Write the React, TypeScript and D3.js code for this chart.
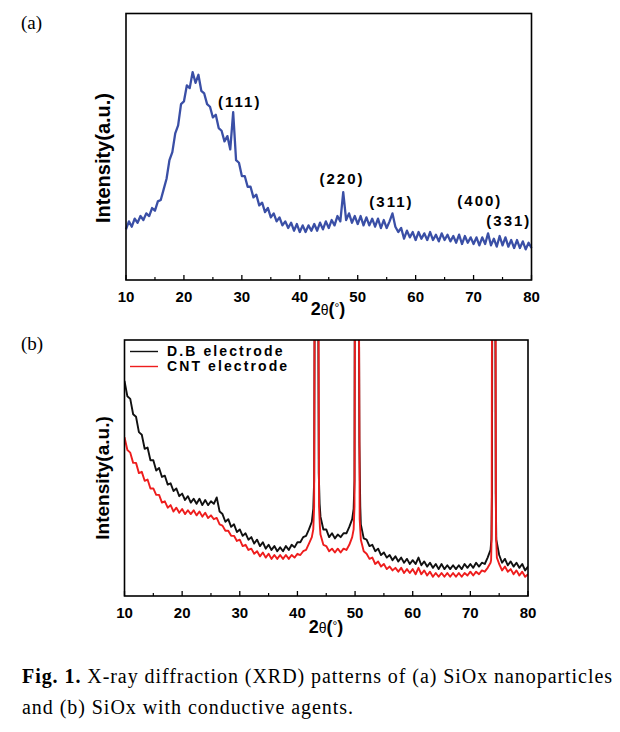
import React from "react";
import * as d3 from "d3";

const W = 620;
const H = 732;

// (a) SiOx nanoparticles, intensity every 0.5 deg from 10 to 80 (a.u.)
const sioxCounts = [
  19, 22, 20, 23, 21.5, 24, 22.5, 25, 24, 27,
  26, 29.5, 30, 34, 38, 45, 48, 55, 58, 66,
  67, 73, 72, 78, 74, 77, 71, 70, 66, 65,
  61, 62, 57, 56, 52, 54, 49, 63, 45, 44,
  39, 39, 35, 35, 31, 32, 28, 29, 25.5, 27,
  23.5, 25, 22, 23.5, 20.5, 22, 19.5, 21.5, 18.5, 21,
  18, 20.5, 18, 20.5, 18.5, 21, 18.5, 21.5, 19, 22,
  19.5, 22.5, 20.5, 24, 22, 33, 22.5, 25, 21.5, 24,
  21, 24, 20.5, 23.5, 20.5, 23, 20, 23, 19.5, 22.5,
  19.5, 22, 25, 20, 18, 19.5, 15.5, 18.5, 16, 18,
  15, 18, 15.5, 17.5, 15, 18, 15, 17, 14.5, 17.5,
  15, 17, 14.5, 16.5, 14, 17, 13.5, 16.5, 14, 16,
  13.5, 16, 13, 16, 13.5, 17.5, 13, 15.5, 12.5, 16.5,
  13, 16, 12.5, 15, 12, 15, 12, 14.5, 11.5, 14,
  12,
];

const peakLabels = [
  { label: "(111)", at: 25.9, level: 65 },
  { label: "(220)", at: 43.4, level: 36 },
  { label: "(311)", at: 52.0, level: 27.4 },
  { label: "(400)", at: 67.2, level: 27.8 },
  { label: "(331)", at: 72.2, level: 20.3 },
];

// (b) electrodes, same 0.5 deg grid, null where a sharp peak takes over
const dbCounts = [
  84, 78, 77, 71, 70, 64, 63, 57.5, 58, 53,
  53, 49, 50, 46.5, 47, 43.5, 44, 41, 42, 39,
  40, 37.5, 39, 36.5, 38, 36, 38, 35.5, 37.5, 35.5,
  37, 36, 38.5, 33, 32, 29, 30, 27, 28, 25,
  26, 23.5, 24.5, 22, 23, 20.5, 22, 19.5, 21, 18.5,
  20, 18, 19.5, 17.5, 19, 17.5, 19.5, 18, 20, 19,
  21, 21, 23, 23.5, 26, 29, null, null, 31, 26,
  26, 23, 24.5, 22.5, 24, 23, 24.5, 24.5, 27, 30,
  null, null, 28, 22.5, 22, 19.5, 20, 17.5, 18.5, 16,
  17, 15, 16, 14, 15.5, 13.5, 15, 13, 14.5, 12.5,
  14, 12.5, 15, 12, 13.5, 11.5, 13, 11, 12.5, 10.5,
  12.5, 10.5, 12, 10.5, 12, 10.5, 12, 10.5, 12.5, 11,
  12.5, 11, 13, 11.5, 13, 12.5, 15, 18, null, null,
  16, 13, 14.5, 12, 13.5, 11.5, 13, 11, 12.5, 10,
  11.5,
];

const cntCounts = [
  62, 57, 56, 52, 52, 48, 48.5, 45, 45.5, 42,
  42, 39.5, 39.5, 36.5, 37, 34.5, 35.5, 33, 34.5, 32.5,
  34, 32, 33.5, 32, 33.5, 31.5, 33, 31, 32.5, 30.5,
  31.5, 30, 30.5, 28, 27.5, 25.5, 25.5, 23.5, 23.5, 21.5,
  22, 19.5, 20, 18, 18.5, 16.5, 17.5, 15.5, 17, 15,
  16.5, 14.5, 16, 14.5, 16, 14.5, 16, 14.5, 16, 15,
  16.5, 16, 17.5, 18, 20.5, 23, null, null, 24, 20,
  19.5, 17.5, 18.5, 17, 18.5, 17, 18.5, 18, 20, 23,
  null, null, 22, 17.5, 16.5, 14.5, 15, 12.5, 13.5, 11.5,
  12.5, 10.5, 11.5, 10, 11, 9.5, 11, 9, 10.5, 9,
  10.5, 8.5, 11, 8.5, 10, 8, 9.5, 7.5, 9, 7.5,
  9, 7.5, 9, 7.5, 9, 7.5, 9, 7.5, 9, 8,
  9.5, 8, 9.5, 8.5, 10, 9.5, 11, 13, null, null,
  12.5, 10, 11.5, 9.5, 10.5, 8.5, 10, 8, 9.5, 7.5,
  8.5,
];

// sharp reflections (off scale), [2theta, intensity]
const dbPeaks = [
  [[42.75, 34], [42.9, 45], [43.0, 120], [43.05, 200], [43.45, 200], [43.6, 120], [43.7, 48], [43.85, 36]],
  [[49.75, 34], [49.9, 45], [50.0, 200], [50.55, 200], [50.75, 60], [50.9, 35]],
  [[73.65, 22], [73.75, 40], [73.85, 200], [74.25, 200], [74.4, 40], [74.5, 22]],
];
const cntPeaks = [
  [[42.75, 26], [42.9, 35], [43.05, 200], [43.55, 200], [43.75, 35], [43.9, 27]],
  [[49.75, 26], [49.9, 35], [50.05, 200], [50.55, 200], [50.8, 30], [50.95, 24]],
  [[73.6, 14], [73.7, 24], [73.8, 200], [74.3, 200], [74.45, 24], [74.6, 15]],
];

const legendItems = [
  { name: "D.B electrode", color: "#111111" },
  { name: "CNT electrode", color: "#ee1d1d" },
];

const majorTicks = [10, 20, 30, 40, 50, 60, 70, 80];
const minorTicks = [15, 25, 35, 45, 55, 65, 75];

const sans = "'Liberation Sans', Arial, sans-serif";
const serif = "'Liberation Serif', 'Times New Roman', serif";

function toPoints(vals: (number | null)[], peaks: number[][][] = []) {
  const pts: [number, number][] = [];
  vals.forEach((v, i) => {
    if (v !== null) pts.push([10 + i * 0.5, v]);
  });
  peaks.forEach((p) => p.forEach((q) => pts.push([q[0], q[1]])));
  return pts.sort((a, b) => a[0] - b[0]);
}

function Frame({ x, y }: any) {
  const [x0, x1] = x.range();
  const [y0, y1] = y.range();
  return (
    <g>
      <rect x={x0} y={y1} width={x1 - x0} height={y0 - y1} fill="none" stroke="#000" strokeWidth={1.6} />
      {majorTicks.map((t) => (
        <g key={"M" + t}>
          <line x1={x(t)} x2={x(t)} y1={y0} y2={y0 - 5} stroke="#000" strokeWidth={1.3} />
          <text x={x(t)} y={y0 + 21.5} textAnchor="middle" fontFamily={sans} fontWeight="bold" fontSize={15}>
            {t}
          </text>
        </g>
      ))}
      {minorTicks.map((t) => (
        <line key={"m" + t} x1={x(t)} x2={x(t)} y1={y0} y2={y0 - 3} stroke="#000" strokeWidth={1.2} />
      ))}
    </g>
  );
}

function XTitle({ cx, y }: any) {
  return (
    <text x={cx} y={y} textAnchor="middle" fontFamily={sans} fontWeight="bold" fontSize={18}>
      2<tspan fontWeight="normal" fontSize={14}>θ</tspan>(<tspan fontWeight="normal" fontSize={12} dy={-3}>°</tspan>
      <tspan dy={3}>)</tspan>
    </text>
  );
}

function YTitle({ cx, cy, size }: any) {
  return (
    <text
      transform={`translate(${cx},${cy}) rotate(-90)`}
      textAnchor="middle"
      fontFamily={sans}
      fontWeight="bold"
      fontSize={size}
    >
      Intensity(a.u.)
    </text>
  );
}

export default function App() {
  // panel (a)
  const xa = d3.scaleLinear().domain([10, 80]).range([126, 531.5]);
  const ya = d3.scaleLinear().domain([0, 100]).range([280, 13.5]);
  const lineA = d3
    .line<[number, number]>()
    .x((d) => xa(d[0]))
    .y((d) => ya(d[1]));

  // panel (b)
  const xb = d3.scaleLinear().domain([10, 80]).range([124.5, 528]);
  const yb = d3.scaleLinear().domain([0, 100]).range([596, 340]);
  const lineB = d3
    .line<[number, number]>()
    .x((d) => xb(d[0]))
    .y((d) => yb(d[1]));

  const sioxPts = toPoints(sioxCounts);
  const dbPts = toPoints(dbCounts, dbPeaks);
  const cntPts = toPoints(cntCounts, cntPeaks);

  return (
    <svg
      width={W}
      height={H}
      viewBox={`0 0 ${W} ${H}`}
      style={{ position: "absolute", left: 0, top: 0, background: "#fff" }}
    >
      <defs>
        <clipPath id="clipB">
          <rect x={124.5} y={340} width={403.5} height={256} />
        </clipPath>
      </defs>

      {/* (a) */}
      <text x={21} y={29} fontFamily={serif} fontSize={19}>(a)</text>
      <path d={lineA(sioxPts) || ""} fill="none" stroke="#3a4fa6" strokeWidth={2.3} strokeLinejoin="round" />
      {peakLabels.map((p) => (
        <text
          key={p.label}
          x={xa(p.at)}
          y={ya(p.level)}
          fontFamily={sans}
          fontWeight="bold"
          fontSize={15}
          letterSpacing={2}
        >
          {p.label}
        </text>
      ))}
      <Frame x={xa} y={ya} />
      <YTitle cx={110} cy={158} size={20} />
      <XTitle cx={328} y={315} />

      {/* (b) */}
      <text x={21} y={350} fontFamily={serif} fontSize={19}>(b)</text>
      <g clipPath="url(#clipB)">
        <path d={lineB(dbPts) || ""} fill="none" stroke={legendItems[0].color} strokeWidth={1.9} strokeLinejoin="round" />
        <path d={lineB(cntPts) || ""} fill="none" stroke={legendItems[1].color} strokeWidth={1.9} strokeLinejoin="round" />
      </g>
      {legendItems.map((l, i) => (
        <g key={l.name}>
          <line x1={130} x2={158} y1={351.5 + i * 15} y2={351.5 + i * 15} stroke={l.color} strokeWidth={1.4} />
          <text
            x={167}
            y={356 + i * 15}
            fontFamily={sans}
            fontWeight="bold"
            fontSize={14}
            letterSpacing={2.1}
          >
            {l.name}
          </text>
        </g>
      ))}
      <Frame x={xb} y={yb} />
      <YTitle cx={109} cy={478} size={19} />
      <XTitle cx={326} y={633} />

      {/* caption */}
      <text x={22} y={683} fontFamily={serif} fontSize={20} textLength={590} lengthAdjust="spacing">
        <tspan fontWeight="bold">Fig. 1.</tspan> X-ray diffraction (XRD) patterns of (a) SiOx nanoparticles
      </text>
      <text x={22} y={714} fontFamily={serif} fontSize={20} textLength={331} lengthAdjust="spacing">
        and (b) SiOx with conductive agents.
      </text>
    </svg>
  );
}
